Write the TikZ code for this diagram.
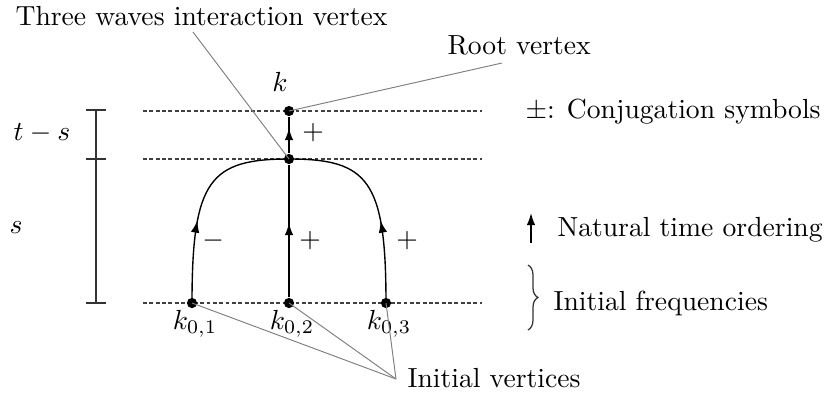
\documentclass[tikz,border=0pt]{standalone}
\usetikzlibrary{arrows.meta,decorations.markings,decorations.pathreplacing}
\tikzset{
  vertex/.style={circle, fill, inner sep=0pt, minimum size=3.7pt},
  level/.style={dash pattern=on 1.4pt off 0.9pt, black!75, line width=0.4pt},
  bar/.style={black!80, line width=0.45pt},
  edge/.style={line width=0.5pt},
  leader/.style={gray, line width=0.35pt},
  lbl/.style={inner sep=0pt},
  midarrow/.style={postaction={decorate},
    decoration={markings, mark=at position #1 with {\arrow{Latex[length=4.4pt,width=3.1pt]}}}},
}

\begin{document}
\begin{tikzpicture}[x=0.3619pt, y=-0.3619pt]
    \useasboundingbox (0,0) rectangle (827,400);
    % time levels
    \draw[level] (143,111) -- (482,111);
    \draw[level] (143,159) -- (482,159);
    \draw[level] (143,303) -- (482,303);
    % time scale
    \draw[bar] (96,110) -- (96,303);
    \foreach \y in {110,159,303}
      \draw[bar] (86,\y) -- (106,\y);
    \node[lbl] (tms) at (42,133) {$t-s$};
    \node[lbl] (sval) at (16,228) {$s$};
    % vertices
    \node[vertex] (root) at (289,111) {};
    \node[vertex] (int) at (289,159) {};
    \node[vertex] (k01) at (192,303) {};
    \node[vertex] (k02) at (289,303) {};
    \node[vertex] (k03) at (386,303) {};
    \node[lbl] at (280,82) {$k$};
    \node[lbl] at (195,324) {$k_{0,1}$};
    \node[lbl] at (292,324) {$k_{0,2}$};
    \node[lbl] at (389,324) {$k_{0,3}$};
    % edges
    \draw[edge, midarrow=0.69] (int) -- (root);
    \draw[edge, midarrow=0.56] (k02) -- (int);
    \draw[edge, midarrow=0.4] (k01.center) .. controls (192,180) and (210,159) .. (int.center);
    \draw[edge, midarrow=0.4] (k03.center) .. controls (386,180) and (368,159) .. (int.center);
    \node[lbl] at (313,133) {$+$};
    \node[lbl] at (213,241) {$-$};
    \node[lbl] at (310,241) {$+$};
    \node[lbl] at (407,241) {$+$};
    % labels with leaders
    \node[lbl, anchor=west] (twiv) at (15,16) {Three waves interaction vertex};
    \coordinate (twivend) at (193,32);
    \draw[leader] (int.center) -- (twivend);
    \node[lbl, anchor=west] (rootv) at (447,45) {Root vertex};
    \coordinate (rootvend) at (502,63);
    \draw[leader] (root.center) -- (rootvend);
    \node[lbl, anchor=west] (initv) at (407,378) {Initial vertices};
    \coordinate (initvend) at (396,379);
    \foreach \k in {k01,k02,k03}
      \draw[leader] (\k.center) -- (initvend);
    % legend
    \node[lbl, anchor=west] (conj) at (525,112) {$\pm$: Conjugation symbols};
    \coordinate (arrbot) at (531,243);
    \coordinate (arrtop) at (531,213);
    \draw[edge, -{Latex[length=4.4pt,width=3.1pt]}] (arrbot) -- (arrtop);
    \node[lbl, anchor=west] (order) at (557,230) {Natural time ordering};
    \draw[bar, decorate, decoration={brace, amplitude=3.6pt}] (528,265) -- (528,330);
    \node[lbl, anchor=west] (freq) at (553,303) {Initial frequencies};
  \end{tikzpicture}
\end{document}
